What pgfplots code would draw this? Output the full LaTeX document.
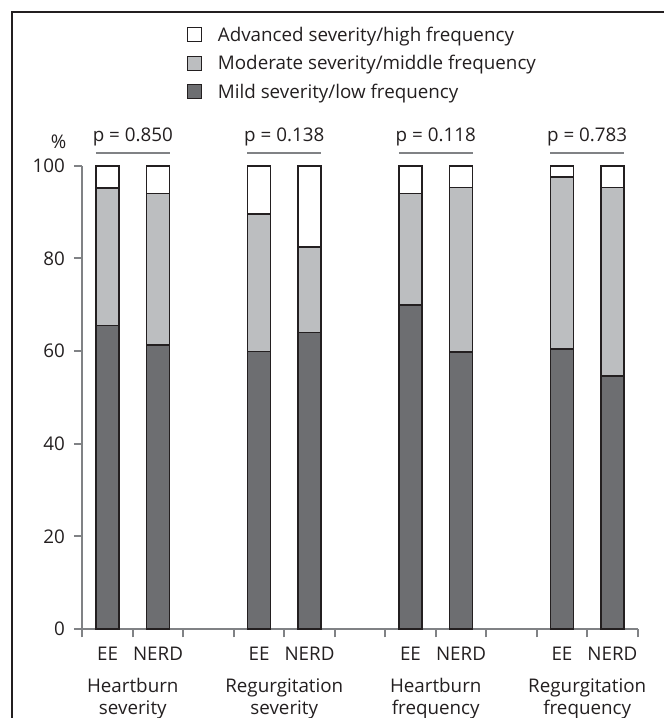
\documentclass[border=0pt]{standalone}
\usepackage{fontspec}
\setmainfont{Open Sans}
\usepackage{pgfplots}
\pgfplotsset{compat=1.18}
\definecolor{dk}{HTML}{6D6E71}
\definecolor{md}{HTML}{BCBEC0}
\definecolor{ol}{HTML}{231F20}
\definecolor{ax}{HTML}{808285}
\definecolor{tx}{HTML}{231F20}
\begin{document}
\begin{tikzpicture}[font=\fontsize{9.4pt}{11pt}\selectfont]
\begin{axis}[
 at={(41.15pt,-314.5pt)}, anchor=south west,
 scale only axis, width=277.7pt, height=231.65pt,
 xmin=0, xmax=11, ymin=0, ymax=100,
 axis lines=left, axis line style={-, draw=ax, line width=0.9pt},
 xtick={0,...,11}, xticklabels={},
 ytick={0,20,40,60,80,100},
 tick align=outside, major tick length=4.2pt,
 every tick/.style={draw=ax, line width=0.9pt},
 yticklabel style={text=tx, font=\fontsize{9.4pt}{11pt}\selectfont, xshift=-1pt},
 /pgf/number format/assume math mode=true,
 clip=false,
 ybar stacked, bar width=0.455,
 legend style={at={(rel axis cs:0.1876,1.3037)}, anchor=north west, draw=none, fill=none,
   inner sep=0pt, row sep=4.9pt,
   nodes={inner sep=0pt, text height=8pt, text depth=1.3pt, text=tx},
   font=\fontsize{9.4pt}{11pt}\selectfont},
 legend cell align=left, reverse legend,
 legend image code/.code={\draw[#1, line width=0.6pt, draw=ol] (0pt,-3.5pt) rectangle (7pt,3.5pt); \path (14.75pt,0pt);},
]
\addplot[fill=dk, draw=ol, line width=0.9pt] coordinates {(0.5,65.5) (1.5,61.3) (3.5,59.9) (4.5,64.0) (6.5,69.9) (7.5,59.8) (9.5,60.5) (10.5,54.6)};
\addplot[fill=md, draw=ol, line width=0.9pt] coordinates {(0.5,29.7) (1.5,32.7) (3.5,29.6) (4.5,18.5) (6.5,24.1) (7.5,35.5) (9.5,37.1) (10.5,40.7)};
\addplot[fill=white, draw=ol, line width=0.9pt] coordinates {(0.5,4.8) (1.5,6.0) (3.5,10.5) (4.5,17.5) (6.5,6.0) (7.5,4.7) (9.5,2.4) (10.5,4.7)};
\legend{Mild severity/low frequency, Moderate severity/middle frequency, Advanced severity/high frequency}
\draw[ax, line width=0.9pt] (axis cs:0.27,102.8) -- (axis cs:1.73,102.8);
\draw[ax, line width=0.9pt] (axis cs:3.27,102.8) -- (axis cs:4.73,102.8);
\draw[ax, line width=0.9pt] (axis cs:6.27,102.8) -- (axis cs:7.73,102.8);
\draw[ax, line width=0.9pt] (axis cs:9.27,102.8) -- (axis cs:10.73,102.8);
\node[anchor=base, text=tx] at (axis cs:1,105.3) {p = 0.850};
\node[anchor=base, text=tx] at (axis cs:4,105.3) {p = 0.138};
\node[anchor=base, text=tx] at (axis cs:7,105.3) {p = 0.118};
\node[anchor=base, text=tx] at (axis cs:10,105.3) {p = 0.783};
\node[anchor=base, text=tx] at (axis cs:0.5,-6.7) {EE};
\node[anchor=base, text=tx] at (axis cs:1.5,-6.7) {NERD};
\node[anchor=base, text=tx] at (axis cs:3.5,-6.7) {EE};
\node[anchor=base, text=tx] at (axis cs:4.5,-6.7) {NERD};
\node[anchor=base, text=tx] at (axis cs:6.5,-6.7) {EE};
\node[anchor=base, text=tx] at (axis cs:7.5,-6.7) {NERD};
\node[anchor=base, text=tx] at (axis cs:9.5,-6.7) {EE};
\node[anchor=base, text=tx] at (axis cs:10.5,-6.7) {NERD};
\node[anchor=base, text=tx] at (axis cs:-0.47,103.8) {\%};
\node[anchor=base, text=tx] at (axis cs:1,-13.75) {Heartburn};
\node[anchor=base, text=tx] at (axis cs:1,-18.56) {severity};
\node[anchor=base, text=tx] at (axis cs:4,-13.75) {Regurgitation};
\node[anchor=base, text=tx] at (axis cs:4,-18.56) {severity};
\node[anchor=base, text=tx] at (axis cs:7,-13.75) {Heartburn};
\node[anchor=base, text=tx] at (axis cs:7,-18.56) {frequency};
\node[anchor=base, text=tx] at (axis cs:10,-13.75) {Regurgitation};
\node[anchor=base, text=tx] at (axis cs:10,-18.56) {frequency};
\end{axis}
\draw[ol, line width=1pt] (5.85pt,-362pt) -- (5.85pt,-5.85pt) -- (335pt,-5.85pt);
\pgfresetboundingbox
\path[use as bounding box] (0,0) rectangle (332pt,-359pt);
\end{tikzpicture}
\end{document}
